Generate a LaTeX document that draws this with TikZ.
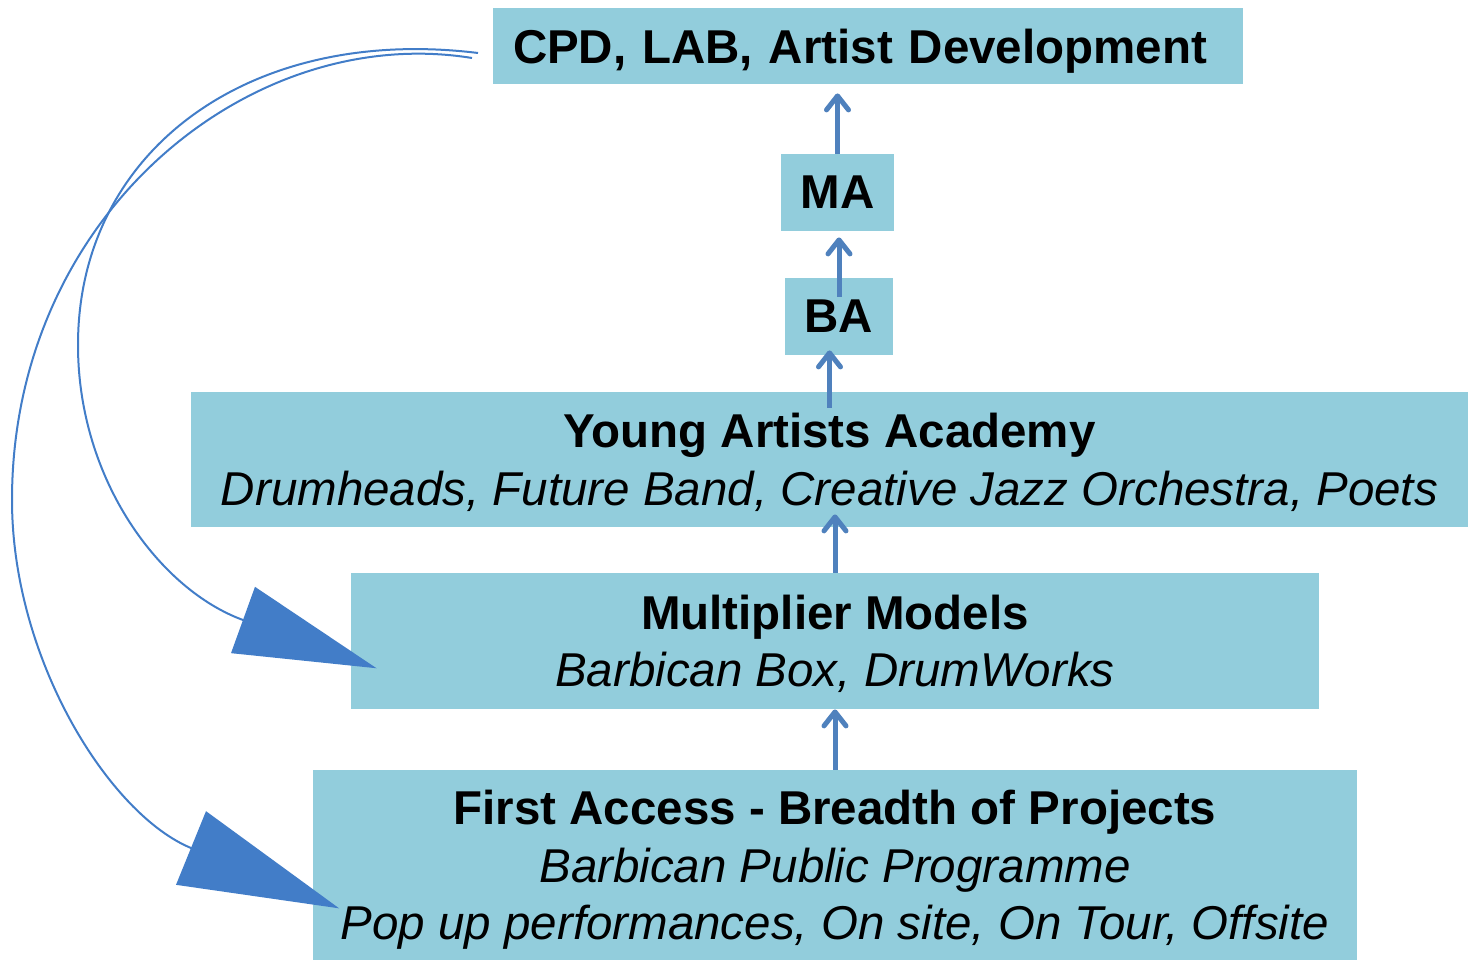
\documentclass[tikz,border=0pt]{standalone}
\usepackage{fontspec}
\setmainfont{Liberation Sans}
\usepackage{tikz}
\usetikzlibrary{arrows.meta}

\definecolor{boxblue}{RGB}{146,205,220}
\definecolor{arrowblue}{RGB}{79,129,189}
\definecolor{loopblue}{RGB}{66,125,200}

\begin{document}
\begin{tikzpicture}[x=0.5pt, y=-0.5pt,
    box/.style={fill=boxblue, inner sep=0pt, align=center, text depth=0pt,
        font=\fontsize{23.75}{28.75}\selectfont},
    up/.style={arrowblue, line width=2.5pt,
        -{Straight Barb[length=7pt, width=11pt, round]}},
    loopback/.style={draw=loopblue, line width=1pt}]
    \useasboundingbox (0,0) rectangle (1469,961);

    % Boxes {cpd, ma, ba, yaa, multi, first}
    \node [box, text width=355pt, inner xsep=10pt, minimum height=38pt, align=left]
                                         (cpd)   at (868,46)    {\textbf{CPD, LAB, Artist Development}};
    \node [box, minimum width=56.5pt, minimum height=38.5pt]
                                         (ma)    at (837.5,192.5) {\textbf{MA}};
    \node [box, minimum width=54pt, minimum height=38.5pt]
                                         (ba)    at (839,316.5) {\textbf{BA}};
    \node [box, minimum width=638.5pt, minimum height=67.5pt]
                                         (yaa)   at (829.5,459.5) {\textbf{Young Artists Academy}\\
                                                                   \textit{Drumheads, Future Band, Creative Jazz Orchestra, Poets}};
    \node [box, minimum width=484pt, minimum height=68pt]
                                         (multi) at (835,641)   {\textbf{Multiplier Models}\\
                                                                   \textit{Barbican Box, DrumWorks}};
    \node [box, minimum width=522pt, minimum height=95pt]
                                         (first) at (835,865)   {\textbf{First Access - Breadth of Projects}\\
                                                                   \textit{Barbican Public Programme}\\
                                                                   \textit{Pop up performances, On site, On Tour, Offsite}};

    % Loop ends
    \coordinate (cpd out1)  at (478,53);
    \coordinate (cpd out2)  at (472,58);
    \coordinate (multi in)  at (243,620);
    \coordinate (first in)  at (191,848);

    % Arrows up
    \path [up]                                  (first.north) edge (multi.south);
    \path [up, shorten >=-6.5pt]                (multi.north) edge (multi.north |- yaa.south);
    \path [up, shorten <=-8pt, shorten >=-2.5pt] (yaa.north)  edge (yaa.north |- ba.south);
    \path [up, shorten <=-9.5pt, shorten >=3pt] (ba.north)    edge (ba.north |- ma.south);
    \path [up, shorten >=4.5pt]                 (ma.north)    edge (ma.north |- cpd.south);

    % Arrows back down
    \draw [loopback, shorten >=-71pt, -{Triangle[length=71pt, width=35pt]}]
        (cpd out1) .. controls (250,25) and (78,150) .. (78,345)
                   .. controls (78,480) and (160,590) .. (multi in);
    \draw [loopback, shorten >=-80pt, -{Triangle[length=80pt, width=39.5pt]}]
        (cpd out2) .. controls (250,22) and (12,215) .. (12,500)
                   .. controls (12,660) and (110,815) .. (first in);
\end{tikzpicture}
\end{document}
